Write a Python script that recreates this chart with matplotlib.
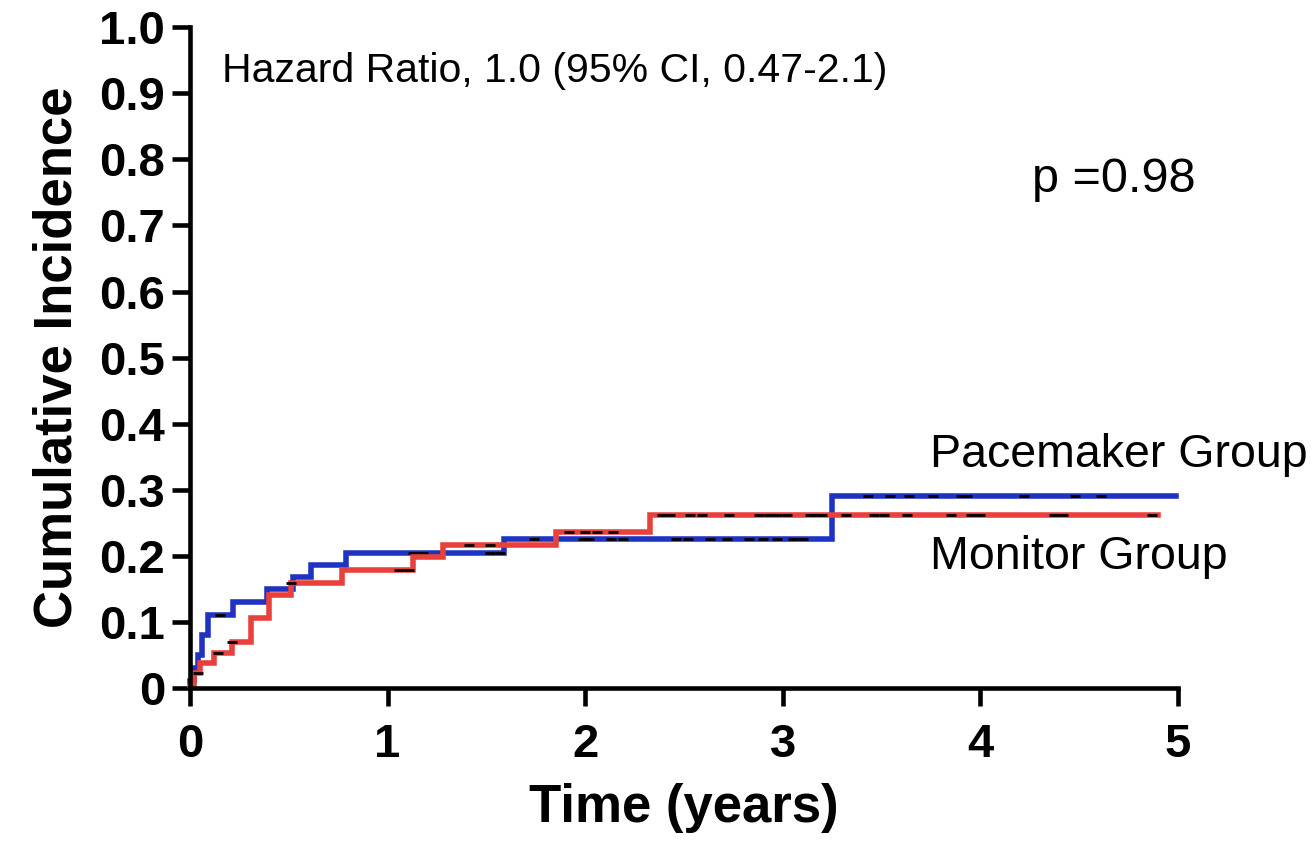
import numpy as np
import matplotlib.pyplot as plt

plt.rcParams['font.family'] = ['Liberation Sans', 'DejaVu Sans']

# step curves: event times (years) and cumulative incidence after each step
pace_t = [0.0, 0.02, 0.04, 0.06, 0.09, 0.22, 0.39, 0.52, 0.61, 0.79, 1.59, 3.25, 4.99]
pace_y = [0.01, 0.03, 0.05, 0.08, 0.11, 0.13, 0.15, 0.168, 0.186, 0.204, 0.226, 0.29, 0.29]
mon_t = [0.0, 0.02, 0.05, 0.12, 0.21, 0.31, 0.40, 0.51, 0.77, 1.13, 1.28, 1.85, 2.33, 4.90]
mon_y = [0.005, 0.023, 0.038, 0.053, 0.07, 0.106, 0.14, 0.159, 0.178, 0.198, 0.217, 0.236, 0.262, 0.262]

# censoring times
pace_cens = [0.15, 1.13, 1.18, 1.52, 1.57, 1.74, 1.99, 2.02, 2.13, 2.19, 2.46, 2.52,
             2.63, 2.72, 2.83, 2.90, 2.97, 3.05, 3.10, 3.43, 3.54, 3.64, 3.76, 3.90,
             3.93, 4.22, 4.48, 4.61]
mon_cens = [0.04, 0.14, 0.21, 0.51, 1.06, 1.11, 1.41, 1.52, 1.92, 2.0, 2.06, 2.14,
            2.39, 2.43, 2.53, 2.59, 2.73, 2.88, 2.93, 2.97, 3.02, 3.14, 3.17, 3.20,
            3.32, 3.46, 3.51, 3.63, 3.85, 3.95, 4.0, 4.37, 4.42, 4.87]

blue = '#1f33c2'
red = '#e8413b'

fig = plt.figure(figsize=(13.14, 8.52), dpi=100)
ax = fig.add_axes([0.1446, 0.1925, 0.7519, 0.7755])

for t, y, c, col in [(pace_t, pace_y, pace_cens, blue), (mon_t, mon_y, mon_cens, red)]:
    ax.step(t, y, where='post', color=col, lw=4, clip_on=False, solid_joinstyle='miter')
    yc = np.array(y)[np.searchsorted(t, c, side='right') - 1]
    ax.plot(c, yc, ls='none', marker='_', color='black', ms=7, mew=2)

ax.set_xlim(0, 5)
ax.set_ylim(0, 1)
ax.set_xticks(range(6))
ax.set_yticks(np.arange(0, 1.01, 0.1))
ax.set_yticklabels(['0'] + [f'{v:.1f}' for v in np.arange(0.1, 1.01, 0.1)])
for lab in ax.get_xticklabels() + ax.get_yticklabels():
    lab.set_fontweight('bold')
ax.tick_params(axis='both', labelsize=34, width=3.3, length=13, direction='out')
ax.tick_params(axis='x', pad=12)
ax.tick_params(axis='y', pad=5)

for s in ['top', 'right']:
    ax.spines[s].set_visible(False)
for s in ['left', 'bottom']:
    ax.spines[s].set_linewidth(3.3)

ax.set_xlabel('Time (years)', fontsize=38, fontweight='bold', labelpad=12)
ax.set_ylabel('Cumulative Incidence', fontsize=38, fontweight='bold', labelpad=12)

ax.text(0.032, 0.917, 'Hazard Ratio, 1.0 (95% CI, 0.47-2.1)', transform=ax.transAxes,
        fontsize=29.5, va='baseline', ha='left')
ax.text(0.852, 0.75, 'p =0.98', transform=ax.transAxes, fontsize=35, va='baseline', ha='left')
ax.text(0.749, 0.334, 'Pacemaker Group', transform=ax.transAxes, fontsize=33.5,
        va='baseline', ha='left', clip_on=False)
ax.text(0.749, 0.18, 'Monitor Group', transform=ax.transAxes, fontsize=33.5,
        va='baseline', ha='left', clip_on=False)

fig.savefig('out.png', dpi=100)
